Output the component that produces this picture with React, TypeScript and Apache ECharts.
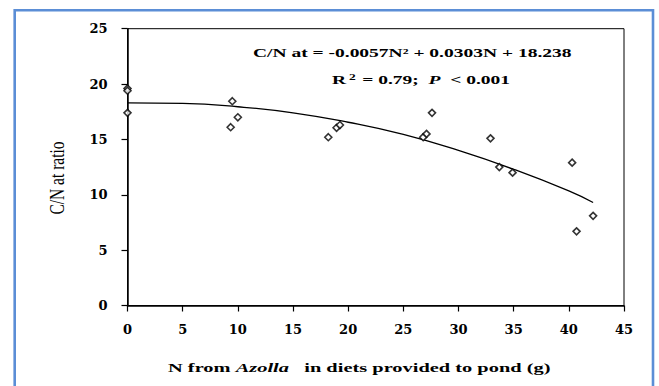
import React, { useEffect, useRef } from "react";
import * as echarts from "echarts";

// Observed points: N from Azolla (g) vs C/N ratio
const obsN = [0, 0, 0, 9.5, 9.35, 10.0, 18.2, 18.95, 19.25, 26.8, 27.1, 27.6, 32.9, 33.7, 34.9, 40.3, 40.7, 42.2];
const obsCN = [19.6, 19.4, 17.4, 18.45, 16.1, 17.0, 15.2, 16.05, 16.3, 15.2, 15.5, 17.4, 15.1, 12.5, 12.0, 12.9, 6.7, 8.1];

// Fitted curve
const fitN = [0, 5, 10, 15, 20, 25, 30, 35, 40, 42.2];
const fitCN = [18.3, 18.25, 17.95, 17.4, 16.55, 15.45, 14.0, 12.3, 10.35, 9.3];

const xTicks = { min: 0, max: 45, interval: 5 };
const yTicks = { min: 0, max: 25, interval: 5 };

const equationText = "C/N at = -0.0057N\u00B2 + 0.0303N + 18.238";
const xTitle = ["N from ", "Azolla", "   in diets provided to pond (g)"];
const yTitle = "C/N at ratio";

const SERIF = "'Liberation Serif', 'Times New Roman', serif";
const TICKFONT = "'DejaVu Serif', serif";

export default function App() {
  const ref = useRef<HTMLDivElement>(null);
  useEffect(() => {
    if (!ref.current) return;
    const chart = echarts.init(ref.current, null, { renderer: "svg" });
    const axisCommon = {
      axisLine: { show: true, lineStyle: { color: "#000", width: 1.5 } },
      axisTick: { show: true, length: 6, inside: false, lineStyle: { color: "#000", width: 1.2 } },
      splitLine: { show: false },
    };
    chart.setOption({
      animation: false,
      backgroundColor: "#fff",
      grid: {
        left: 127.5,
        right: 35,
        top: 28.7,
        bottom: 80.5,
        show: true,
        borderColor: "#000",
        borderWidth: 1,
        backgroundColor: "transparent",
      },
      xAxis: {
        type: "value",
        min: xTicks.min,
        max: xTicks.max,
        interval: xTicks.interval,
        ...axisCommon,
        axisLabel: {
          margin: 17,
          color: "#000",
          fontFamily: TICKFONT,
          fontWeight: "bold",
          fontSize: 13,
        },
      },
      yAxis: {
        type: "value",
        min: yTicks.min,
        max: yTicks.max,
        interval: yTicks.interval,
        ...axisCommon,
        axisLabel: {
          margin: 20,
          color: "#000",
          fontFamily: TICKFONT,
          fontWeight: "bold",
          fontSize: 13,
        },
      },
      series: [
        {
          type: "line",
          data: fitN.map((n, i) => [n, fitCN[i]]),
          smooth: true,
          showSymbol: false,
          symbol: "none",
          lineStyle: { color: "#000", width: 1.3 },
          z: 2,
        },
        {
          type: "scatter",
          data: obsN.map((n, i) => [n, obsCN[i]]),
          symbol: "diamond",
          symbolSize: [7, 7],
          itemStyle: { color: "#fff", borderColor: "#000", borderWidth: 1.6 },
          z: 3,
        },
      ],
      graphic: [
        {
          type: "rect",
          shape: { x: 14.7, y: 10.3, width: 638.3, height: 400 },
          style: { fill: "none", stroke: "#5B8ED6", lineWidth: 2.6 },
          silent: true,
        },
        {
          type: "text",
          x: 253,
          y: 53,
          scaleX: 1.5,
          style: {
            text: equationText,
            fontFamily: SERIF,
            fontWeight: "bold",
            fontSize: 13,
            fill: "#000",
            textAlign: "left",
            textVerticalAlign: "middle",
          },
        },
        {
          type: "text",
          x: 332,
          y: 80,
          scaleX: 1.5,
          style: {
            text: "{b|R}{s|2}{b| = 0.79;  }{i|P}{b|  < 0.001}",
            textAlign: "left",
            textVerticalAlign: "middle",
            rich: {
              b: { fontFamily: SERIF, fontWeight: "bold", fontSize: 13, fill: "#000", lineHeight: 16 },
              s: { fontFamily: SERIF, fontWeight: "bold", fontSize: 9, fill: "#000", padding: [0, 1, 7, 2], lineHeight: 16 },
              i: { fontFamily: SERIF, fontWeight: "bold", fontStyle: "italic", fontSize: 13, fill: "#000", lineHeight: 16 },
            },
          },
        },
        {
          type: "text",
          x: 168,
          y: 368,
          scaleX: 1.57,
          style: {
            text: `{b|${xTitle[0]}}{i|${xTitle[1]}}{b|${xTitle[2]}}`,
            textAlign: "left",
            textVerticalAlign: "middle",
            rich: {
              b: { fontFamily: SERIF, fontWeight: "bold", fontSize: 13, fill: "#000" },
              i: { fontFamily: SERIF, fontWeight: "bold", fontStyle: "italic", fontSize: 13, fill: "#000" },
            },
          },
        },
        {
          type: "text",
          x: 57,
          y: 178,
          rotation: Math.PI / 2,
          scaleY: 1.3,
          style: {
            text: yTitle,
            fontFamily: SERIF,
            fontSize: 15.5,
            fill: "#000",
            textAlign: "center",
            textVerticalAlign: "middle",
          },
        },
      ],
    });
    return () => chart.dispose();
  }, []);
  return (
    <div
      ref={ref}
      style={{ position: "fixed", left: 0, top: 0, width: 659, height: 386 }}
    />
  );
}
